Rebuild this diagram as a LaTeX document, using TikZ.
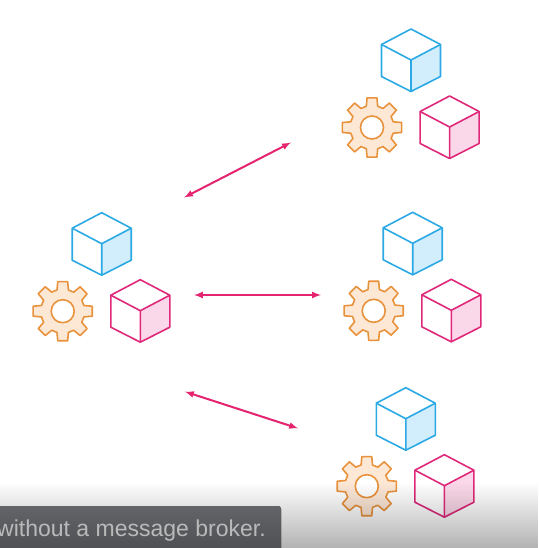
\documentclass[tikz,border=0pt]{standalone}
\usepackage{fontspec}
\setmainfont{Liberation Sans}
\usetikzlibrary{arrows,fadings}
\definecolor{cubeblue}{HTML}{2BA9E4}
\definecolor{cubebluefill}{HTML}{D2EDFC}
\definecolor{cubepink}{HTML}{E0287A}
\definecolor{cubepinkfill}{HTML}{FBD8E9}
\definecolor{gearline}{HTML}{E8923C}
\definecolor{gearfill}{HTML}{FDE8D6}
\definecolor{linkpink}{HTML}{E5236F}
\definecolor{captiontop}{HTML}{636468}
\definecolor{captionbottom}{HTML}{4A4B4F}
\tikzfading[name=footerfade, top color=transparent!100, bottom color=transparent!70]
\tikzstyle{edge} = [line width=1.6pt, line join=round]
\tikzstyle{line} = [draw=linkpink, line width=2pt, >=latex, <->, shorten >=-1pt, shorten <=-1pt]
\tikzstyle{caption} = [anchor=base west, inner sep=0pt, text=black!27, font=\fontsize{23}{26}\selectfont]
\tikzset{
    cube/.pic={
        \fill[#1fill] (0,31) -- (29.5,15.5) -- (29.5,47.5) -- (0,62.5) -- cycle;
        \draw[edge, #1] (0,0) -- (29.5,15.5) -- (29.5,47.5) -- (0,62.5) -- (-29.5,47.5) -- (-29.5,15.5) -- cycle;
        \draw[edge, #1] (-29.5,15.5) -- (0,31) -- (29.5,15.5) (0,31) -- (0,62.5);
    },
    gear/.pic={
        \draw[edge, draw=gearline, fill=gearfill, even odd rule]
            (-15:22) \foreach \a in {0,45,...,315} {
                -- (\a-15:22) -- (\a-9.5:30) -- (\a+9.5:30) -- (\a+15:22)
            } -- cycle
            (0,0) circle (11.5);
    },
    stack/.pic={
        \pic at (0,0) {cube=cubeblue};
        \pic at (38.6,67) {cube=cubepink};
        \pic at (-39,98.5) {gear};
    }
}
\begin{document}
\begin{tikzpicture}[x=1pt, y=-1pt]
    \useasboundingbox (0,0) rectangle (538,548);

    \pic at (101.7,212.7) {stack};
    \pic at (411,29) {stack};
    \pic at (412.7,212.3) {stack};
    \pic at (405.8,387.7) {stack};

    \coordinate (top_left) at (185,197);
    \coordinate (top_right) at (290,143);
    \path[line] (top_left) -- (top_right);

    \coordinate (middle_left) at (195,295);
    \coordinate (middle_right) at (320,295);
    \path[line] (middle_left) -- (middle_right);

    \coordinate (bottom_left) at (186,392);
    \coordinate (bottom_right) at (297,428);
    \path[line] (bottom_left) -- (bottom_right);

    \fill[black, path fading=footerfade] (0,482) rectangle (538,548);
    \fill[top color=captiontop, bottom color=captionbottom, rounded corners=3pt] (-10,506) rectangle (281,560);
    \node[caption] (message) at (-3,536) {without a message broker.};
\end{tikzpicture}
\end{document}
